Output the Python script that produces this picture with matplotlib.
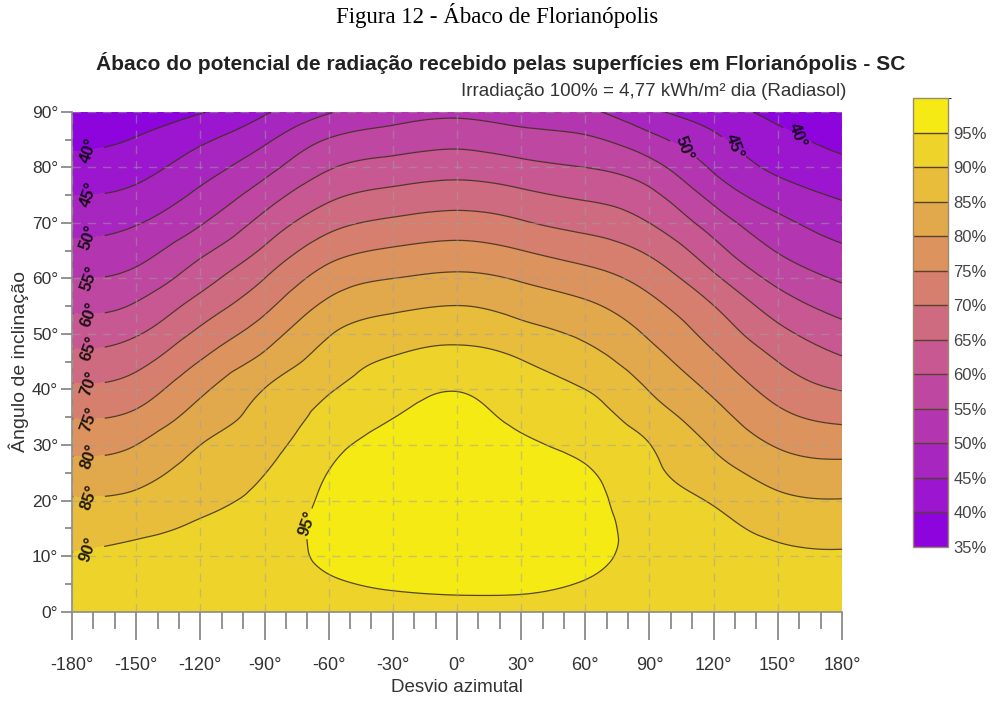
import numpy as np
import matplotlib
matplotlib.use("Agg")
import matplotlib.pyplot as plt
import matplotlib.tri as mtri
from matplotlib.colors import ListedColormap, BoundaryNorm
from matplotlib.ticker import MultipleLocator, FixedLocator
from matplotlib import font_manager

# ---------------- data ----------------
azimuths = [-180, -150, -120, -90, -60, -30, 0, 30, 60, 90, 120, 150, 180]
tilts = [0, 5, 10, 15, 20, 25, 30, 35, 40, 45, 50, 55, 60, 65, 70, 75, 80, 85, 90]

# radiation potential (%) ; one row per tilt, one column per azimuth
pot_t00 = [93.5, 93.5, 93.5, 93.5, 93.5, 93.5, 93.5, 93.5, 93.5, 93.5, 93.5, 93.5, 93.5]
pot_t05 = [91.9, 92.6, 92.8, 93.6, 94.6, 95.5, 96.0, 95.8, 94.8, 93.8, 93.2, 92.5, 92.0]
pot_t10 = [90.3, 91.2, 91.8, 93.2, 95.7, 97.3, 98.0, 97.3, 96.0, 93.8, 92.4, 91.0, 90.5]
pot_t15 = [87.9, 89.0, 90.5, 92.4, 96.3, 98.4, 99.2, 98.2, 96.7, 93.2, 91.2, 88.8, 88.1]
pot_t20 = [85.4, 86.2, 88.8, 91.3, 96.0, 98.6, 99.6, 98.3, 96.4, 92.3, 89.6, 86.1, 85.2]
pot_t25 = [82.1, 83.2, 86.9, 89.9, 95.1, 98.1, 99.3, 97.6, 95.5, 91.1, 87.1, 82.9, 81.8]
pot_t30 = [78.5, 80.0, 85.0, 88.3, 93.5, 96.9, 98.3, 95.9, 93.8, 90.1, 84.5, 79.6, 78.0]
pot_t35 = [74.8, 76.2, 82.1, 86.7, 91.6, 94.9, 96.8, 93.8, 91.9, 87.5, 81.9, 76.3, 73.9]
pot_t40 = [70.9, 72.4, 79.0, 85.1, 89.6, 92.8, 94.8, 92.0, 90.0, 84.8, 79.1, 73.1, 69.8]
pot_t45 = [66.9, 68.6, 75.2, 81.5, 87.3, 90.6, 91.9, 90.2, 87.1, 82.1, 76.2, 70.0, 65.8]
pot_t50 = [62.9, 64.6, 71.2, 77.7, 84.7, 87.6, 88.8, 86.9, 84.1, 79.4, 73.2, 66.5, 62.0]
pot_t55 = [59.0, 60.6, 67.1, 73.8, 81.2, 84.0, 85.1, 83.3, 80.9, 76.5, 70.1, 62.7, 58.2]
pot_t60 = [55.0, 56.6, 62.9, 70.0, 77.3, 80.0, 81.0, 79.5, 77.0, 73.1, 66.0, 58.6, 54.4]
pot_t65 = [51.5, 53.0, 58.8, 65.8, 72.9, 75.6, 76.7, 75.1, 72.7, 69.2, 61.8, 54.7, 50.9]
pot_t70 = [48.2, 49.7, 54.6, 61.7, 68.3, 71.0, 72.1, 70.5, 68.3, 65.0, 57.7, 51.3, 47.6]
pot_t75 = [45.0, 46.3, 51.1, 57.5, 63.9, 66.4, 67.5, 66.1, 64.2, 61.2, 53.4, 47.5, 44.4]
pot_t80 = [41.7, 43.2, 47.7, 53.3, 59.6, 61.9, 63.0, 61.5, 60.0, 56.8, 49.3, 44.0, 41.3]
pot_t85 = [38.7, 40.3, 44.1, 49.1, 55.3, 57.4, 58.5, 57.0, 55.8, 51.6, 46.0, 41.4, 38.7]
pot_t90 = [36.0, 37.5, 39.7, 44.4, 49.6, 52.8, 53.9, 52.6, 51.0, 46.1, 42.3, 38.7, 36.5]

potential = [pot_t00, pot_t05, pot_t10, pot_t15, pot_t20, pot_t25, pot_t30,
             pot_t35, pot_t40, pot_t45, pot_t50, pot_t55, pot_t60, pot_t65,
             pot_t70, pot_t75, pot_t80, pot_t85, pot_t90]

levels = [35, 40, 45, 50, 55, 60, 65, 70, 75, 80, 85, 90, 95, 100]
band_colors = ["#8E04DC", "#9B16CE", "#A726C0", "#B336B0", "#BE47A1", "#C75892",
               "#CF6B80", "#D67F6E", "#DC935D", "#E2A84C", "#E8BD3B", "#EED32A",
               "#F6EA14"]
cbar_ticks = [35, 40, 45, 50, 55, 60, 65, 70, 75, 80, 85, 90, 95]
cbar_labels = ["35%", "40%", "45%", "50%", "55%", "60%", "65%", "70%",
               "75%", "80%", "85%", "90%", "95%"]
x_ticks = [-180, -150, -120, -90, -60, -30, 0, 30, 60, 90, 120, 150, 180]
x_labels = ["-180°", "-150°", "-120°", "-90°", "-60°", "-30°", "0°", "30°",
            "60°", "90°", "120°", "150°", "180°"]
y_ticks = [0, 10, 20, 30, 40, 50, 60, 70, 80, 90]
y_labels = ["0°", "10°", "20°", "30°", "40°", "50°", "60°", "70°", "80°", "90°"]

fig_title = "Figura 12 - Ábaco de Florianópolis"
chart_title = "Ábaco do potencial de radiação recebido pelas superfícies em Florianópolis - SC"
subtitle = "Irradiação 100% = 4,77 kWh/m² dia (Radiasol)"
x_title = "Desvio azimutal"
y_title = "Ângulo de inclinação"


def font_ok(name):
    try:
        font_manager.findfont(font_manager.FontProperties(family=name),
                              fallback_to_default=False)
        return True
    except Exception:
        return False


SANS = "Liberation Sans" if font_ok("Liberation Sans") else "DejaVu Sans"
NARROW = "Liberation Sans Narrow" if font_ok("Liberation Sans Narrow") else SANS
SERIF = "Liberation Serif" if font_ok("Liberation Serif") else "DejaVu Serif"

# ---------------- figure ----------------
fig = plt.figure(figsize=(9.95, 7.02), dpi=100)
ax = fig.add_axes([0.0724, 0.1289, 0.7738, 0.7116])

AZ, TI = np.meshgrid(np.array(azimuths, float), np.array(tilts, float))
Z = np.array(potential, float)

# smooth the read grid with matplotlib's own cubic triangulation refinement
tri = mtri.Triangulation(AZ.ravel() / 30.0, TI.ravel() / 5.0)
interp = mtri.CubicTriInterpolator(tri, Z.ravel(), kind="min_E")
refiner = mtri.UniformTriRefiner(tri)
tri_r, z_r = refiner.refine_field(Z.ravel(), triinterpolator=interp, subdiv=4)
tri_plot = mtri.Triangulation(tri_r.x * 30.0, tri_r.y * 5.0, tri_r.triangles)
z_r = np.clip(z_r, 35.05, 99.95)

cmap = ListedColormap(band_colors)
norm = BoundaryNorm(levels, cmap.N)
cf = ax.tricontourf(tri_plot, z_r, levels=levels, cmap=cmap, norm=norm, zorder=1)
cl = ax.tricontour(tri_plot, z_r, levels=levels[1:-1], colors="#3a2c1c",
                   linewidths=0.9, alpha=0.85, zorder=2)

# contour labels
left_pos = [(-172, 82.5), (-172, 75), (-172, 67.2), (-172, 60), (-172, 53.7),
            (-172, 47.4), (-172, 41.1), (-172, 34.7), (-172, 28), (-172, 20.8),
            (-172, 10.8)]
right_pos = [(107, 84), (130, 84), (158, 85)]
blob_pos = [(-73, 16)]
fmt = lambda v: f"{v:.0f}°"
lab_left = ax.clabel(cl, manual=left_pos, fmt=fmt, inline=True, inline_spacing=1,
                     fontsize=12, colors="black")
for t in lab_left:
    t.set_rotation(80)
    t.set_fontweight("bold")
    t.set_fontfamily(NARROW)
lab_right = ax.clabel(cl, manual=right_pos + blob_pos, fmt=fmt, inline=True,
                      inline_spacing=1, fontsize=12, colors="black")
for t in lab_right:
    t.set_rotation(-70 if t.get_position()[0] > 0 else 70)
    t.set_fontweight("bold")
    t.set_fontfamily(NARROW)

ax.set_xlim(-180, 180)
ax.set_ylim(0, 90)

# axes styling
for s in ["top", "right"]:
    ax.spines[s].set_visible(False)
for s in ["left", "bottom"]:
    ax.spines[s].set_color("#8a8a8a")
    ax.spines[s].set_linewidth(1.2)

ax.xaxis.set_major_locator(FixedLocator(x_ticks))
ax.set_xticklabels(x_labels)
ax.xaxis.set_minor_locator(MultipleLocator(10))
ax.yaxis.set_major_locator(FixedLocator(y_ticks))
ax.set_yticklabels(y_labels)
ax.yaxis.set_minor_locator(MultipleLocator(5))

ax.tick_params(axis="x", which="major", length=20, width=1.3, color="#8a8a8a",
               pad=13, labelsize=13, labelcolor="#333333", direction="out")
ax.tick_params(axis="x", which="minor", length=12, width=1.3, color="#8a8a8a",
               direction="out")
ax.tick_params(axis="y", which="major", length=8, width=1.3, color="#8a8a8a",
               pad=2, labelsize=12.5, labelcolor="#333333", direction="out")
ax.tick_params(axis="y", which="minor", length=5, width=1.3, color="#8a8a8a",
               direction="out")
for lab in ax.get_xticklabels() + ax.get_yticklabels():
    lab.set_fontfamily(NARROW)

ax.set_axisbelow(False)
ax.grid(True, which="major", color="#a0a0a0", alpha=0.5, linewidth=1.0,
        linestyle=(0, (6, 5)))

ax.set_xlabel(x_title, fontsize=13.5, color="#333333", family=SANS, labelpad=3)
ax.set_ylabel(y_title, fontsize=14, color="#333333", family=SANS, labelpad=2)

# titles
fig.text(0.5, 0.978, fig_title, ha="center", va="center", fontsize=16.5,
         family=SERIF, color="black")
fig.text(0.503, 0.910, chart_title, ha="center", va="center", fontsize=15.1,
         family=SANS, fontweight="bold", color="#222222")
fig.text(0.8502, 0.869, subtitle, ha="right", va="center", fontsize=13.5,
         family=SANS, color="#333333")

# colour bar
cax = fig.add_axes([0.9176, 0.2208, 0.0352, 0.6396])
cb = fig.colorbar(cf, cax=cax, ticks=cbar_ticks, drawedges=True)
cb.ax.set_yticklabels(cbar_labels)
cb.ax.tick_params(length=0, pad=4, labelsize=12, labelcolor="#444444")
for lab in cb.ax.get_yticklabels():
    lab.set_fontfamily(SANS)
cb.outline.set_edgecolor("#9a8a70")
cb.outline.set_linewidth(1.0)
cb.dividers.set_color("#5a4030")
cb.dividers.set_linewidth(1.0)

fig.savefig("out.png", dpi=100)
